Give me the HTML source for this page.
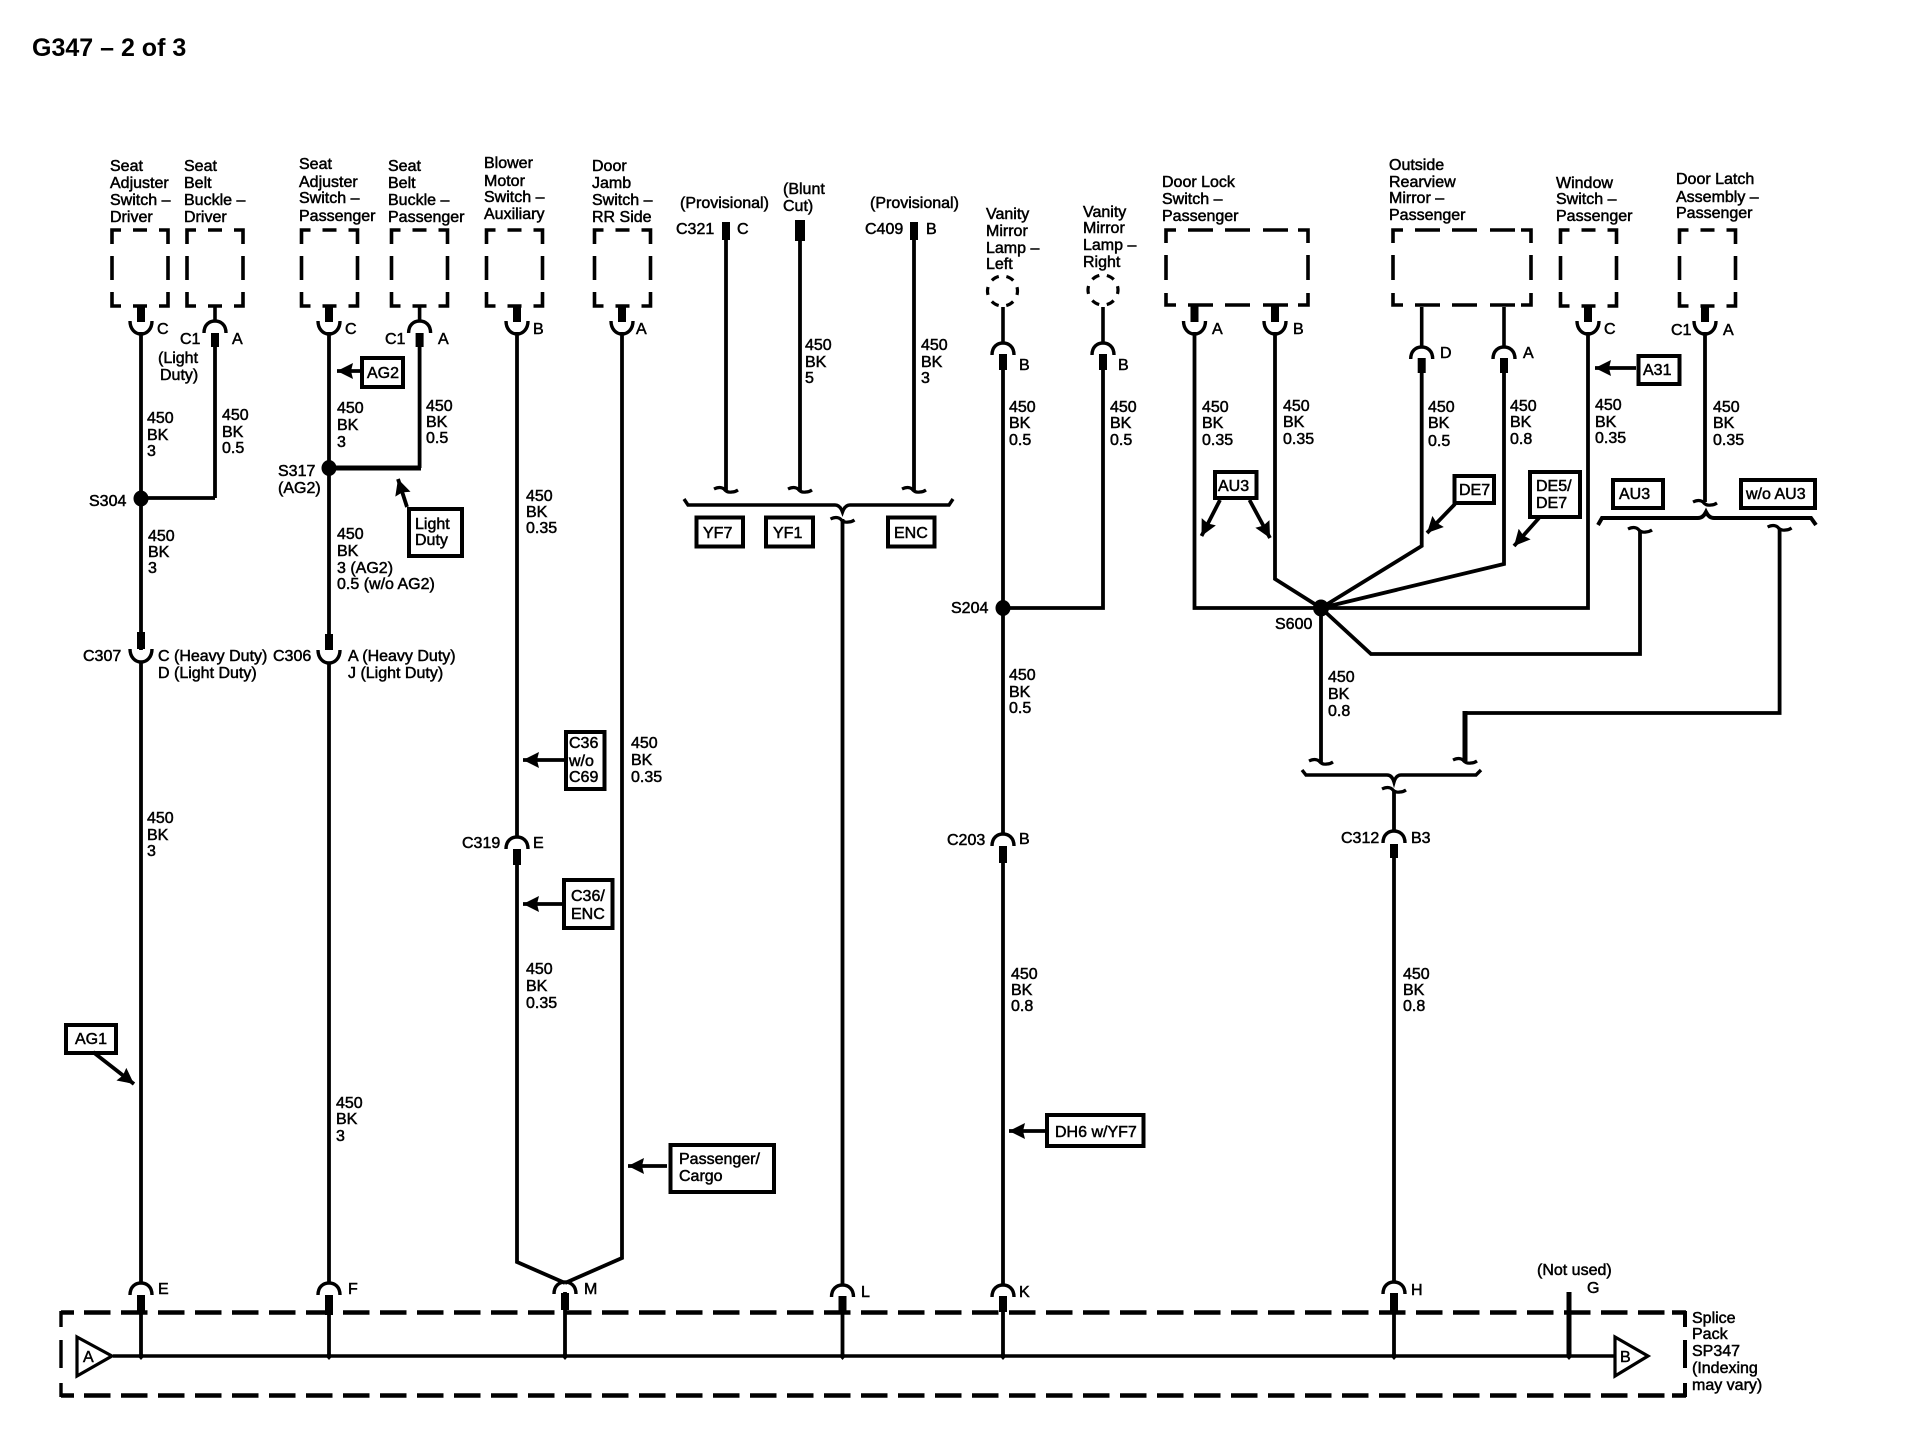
<!DOCTYPE html>
<html><head><meta charset="utf-8"><title>G347 - 2 of 3</title>
<style>html,body{margin:0;padding:0;background:#fff}svg{display:block}</style></head>
<body>
<svg xmlns="http://www.w3.org/2000/svg" width="1914" height="1456" viewBox="0 0 1914 1456">
<defs>
<path id="U" d="M-11 -1C-11 7 -6 12 0 12C6 12 11 7 11 -1" fill="none" stroke="#000" stroke-width="3.4"/>
<path id="Ar" d="M-11 12C-11 4 -6 0 0 0C6 0 11 4 11 12" fill="none" stroke="#000" stroke-width="3.4"/>
<path id="T" d="M-12 -1Q-6 -4 -2 -1Q1 3 6 2Q9 2 12 0" fill="none" stroke="#000" stroke-width="3.2"/>
<polygon id="N" points="-3.5,0 0,-4 3.5,0 0,4" fill="#000"/>
<g id="B" fill="none" stroke="#000" stroke-width="3.6">
<path d="M0 14V0H9M56 14V0H47M21 0H35M0 26V50M56 26V50M0 62V76H9M56 62V76H47M21 76H35"/>
</g>
<marker id="h" markerUnits="userSpaceOnUse" markerWidth="20" markerHeight="20" refX="16" refY="9" orient="auto">
<path d="M0 1L16 9L0 17L2 9Z" fill="#000"/>
</marker>
</defs>
<rect width="1914" height="1456" fill="#fff"/>

<!-- component boxes -->
<use href="#B" x="112" y="230"/><use href="#B" x="187" y="230"/>
<use href="#B" x="301.500" y="230"/><use href="#B" x="391.500" y="230"/>
<use href="#B" x="486.500" y="230"/><use href="#B" x="594.500" y="230"/>
<use href="#B" x="1560.500" y="230"/><use href="#B" x="1679.500" y="230"/>
<g fill="none" stroke="#000" stroke-width="3.6">
<path d="M1166 243V230H1176M1188 230H1213M1225 230H1250M1263 230H1288M1298 230H1308V243M1166 255V280M1308 255V280M1166 293V305H1176M1188 305H1213M1225 305H1250M1263 305H1288M1298 305H1308V293"/>
<path d="M1393 243V230H1403M1415 230H1440M1452 230H1477M1490 230H1515M1521 230H1531V243M1393 255V280M1531 255V280M1393 293V305H1403M1415 305H1440M1452 305H1477M1490 305H1515M1521 305H1531V293"/>
<circle cx="1002.500" cy="291" r="15" stroke-width="3.2" stroke-dasharray="8 7.700" stroke-dashoffset="4"/>
<circle cx="1103" cy="290" r="15" stroke-width="3.2" stroke-dasharray="8 7.700" stroke-dashoffset="4"/>
</g>

<!-- splice pack -->
<g fill="none" stroke="#000">
<path stroke-width="4.400" stroke-dasharray="26.500 10.500" d="M84 1312.500H1670M84 1395.500H1670"/>
<path stroke-width="4.400" d="M61 1312.500H74M61 1395.500H74M1672 1312.500H1686M1672 1395.500H1686"/>
<path stroke-width="3.400" d="M61 1311V1327M61 1340V1368M61 1383V1397"/>
<path stroke-width="4" d="M1685 1311V1327M1685 1340V1368M1685 1383V1397"/>
</g>

<!-- wires -->
<g fill="none" stroke="#000" stroke-width="3.800" stroke-linejoin="miter">
<path d="M141 332V650M141 661V1283M141 1295V1356M215 344V498M141 498H215"/>
<path d="M329 332V650M329 662V1283M329 1295V1356"/>
<path d="M419.600 344V468"/>
<path d="M517 332V837M517 849V1262L565 1283M622 332V1258L565 1283M565 1292V1356"/>
<path d="M842.500 519V1285M842.500 1296V1356"/>
<path d="M726 236V490M800 238V490M914 236V490"/>
<path d="M1003 365V834M1003 846V1285M1003 1296V1356M1103 365V608H1003"/>
<path d="M1194.500 332V608H1588V332M1275 332V579L1321 608M1421.700 370V546L1321 608M1504 370V564L1321 608"/>
<path d="M1705 332V502"/>
<path d="M1640 530V654H1371L1321 608M1321 608V762"/>
<path d="M1779.600 528V713H1465"/>
<path stroke-width="5" d="M1465 711V761"/>
<path d="M1394 790V831M1394 844V1282M1394 1293V1356"/>
<path stroke-width="3.400" d="M113 1356H1614"/>
<path stroke-width="5" d="M329 468H421M1569 1292V1356"/>
</g>

<!-- thick stubs -->
<g fill="none" stroke="#000" stroke-width="8">
<path d="M141 306V322M329 306V322M517 306V322M622 306V322M1194.500 306V322M1275 306V322M1588 306V322M1705 306V322"/>
<path d="M215 333V347M419.600 333V347"/>
<path d="M141 632V649M329 634V650"/>
<path d="M517 849V865M1003 846V863M1394 844V858"/>
<path d="M1103 354V370M1003 354V370"/>
<path d="M1421.700 358V373M1504 358V373"/>
<path d="M141 1295V1313M329 1295V1315M565 1293V1310M842.500 1296V1312M1003 1296V1312M1394 1293V1312"/>
<path d="M726 222V240M914 222V240"/>
<path stroke-width="10" d="M800 220V241"/>
</g>
<path d="M215 307V320M419.600 307V320M1103 307V343M1003 307V343M1421.700 307V347M1504 307V347" fill="none" stroke="#000" stroke-width="3.600"/>

<!-- connector cups and arches -->
<use href="#U" x="141" y="322"/><use href="#U" x="329" y="322"/><use href="#U" x="517" y="322"/><use href="#U" x="622" y="322"/>
<use href="#U" x="1194.500" y="322"/><use href="#U" x="1275" y="322"/><use href="#U" x="1588" y="322"/><use href="#U" x="1705" y="322"/>
<use href="#U" x="141" y="650"/><use href="#U" x="329" y="651"/>
<use href="#Ar" x="215" y="321"/><use href="#Ar" x="419.600" y="321"/>
<use href="#Ar" x="1003" y="343"/><use href="#Ar" x="1103" y="343"/>
<use href="#Ar" x="1421.700" y="347"/><use href="#Ar" x="1504" y="347"/>
<use href="#Ar" x="517" y="837"/><use href="#Ar" x="1003" y="834"/><use href="#Ar" x="1394" y="831"/>
<use href="#Ar" x="141" y="1283"/><use href="#Ar" x="329" y="1283"/><use href="#Ar" x="565" y="1282"/><use href="#Ar" x="842.500" y="1285"/><use href="#Ar" x="1003" y="1285"/><use href="#Ar" x="1394" y="1282"/>

<!-- tildes and braces -->
<use href="#T" x="726" y="490"/><use href="#T" x="800" y="490"/><use href="#T" x="914" y="490"/><use href="#T" x="842.500" y="520"/>
<use href="#T" x="1705" y="503"/><use href="#T" x="1640" y="530"/><use href="#T" x="1779.600" y="528"/>
<use href="#T" x="1321" y="762"/><use href="#T" x="1465" y="761"/><use href="#T" x="1394" y="790"/>
<g fill="none" stroke="#000" stroke-width="3.400">
<path d="M684 499L688 505H835Q840 505 842.500 512Q845 505 850 505H949L953 499"/>
<path stroke-width="4" d="M1598 525L1602 518H1698Q1703 518 1706 512Q1709 518 1714 518H1811L1816 525"/>
<path d="M1302 770L1306 775H1387Q1392 775 1394 782Q1396 775 1401 775H1476L1481 770"/>
</g>

<!-- splices -->
<g fill="#000">
<ellipse cx="141" cy="498.500" rx="7.500" ry="8"/><ellipse cx="329" cy="468" rx="7.500" ry="8"/>
<ellipse cx="1003" cy="608" rx="7.500" ry="8"/><ellipse cx="1321" cy="608" rx="8" ry="8.500"/>
</g>
<use href="#N" x="141" y="1356"/><use href="#N" x="329" y="1356"/><use href="#N" x="565" y="1356"/><use href="#N" x="842.500" y="1356"/><use href="#N" x="1003" y="1356"/><use href="#N" x="1394" y="1356"/><use href="#N" x="1569" y="1356"/>
<polygon points="77,1337 112,1356 77,1376" fill="#fff" stroke="#000" stroke-width="3.200"/>
<polygon points="1615,1337 1648,1356 1615,1376" fill="#fff" stroke="#000" stroke-width="3.200"/>

<!-- option flags -->
<g fill="#fff" stroke="#000" stroke-width="4">
<rect x="362" y="358" width="41" height="29"/>
<rect x="409" y="509" width="53" height="47"/>
<rect x="566" y="732" width="38.500" height="57"/>
<rect x="564" y="880" width="48.500" height="48"/>
<rect x="66" y="1025" width="50" height="28"/>
<rect x="1047" y="1115" width="96.500" height="31"/>
<rect x="670.500" y="1145" width="103.500" height="47"/>
<rect x="696.500" y="517.500" width="46.500" height="29"/>
<rect x="766" y="517.500" width="47" height="29"/>
<rect x="888" y="517.500" width="46.500" height="29"/>
<rect x="1215" y="472" width="41.500" height="26"/>
<rect x="1454.500" y="476" width="39.500" height="27"/>
<rect x="1530" y="472" width="50" height="45"/>
<rect x="1638.500" y="356" width="41" height="28"/>
<rect x="1613" y="480" width="50" height="28"/>
<rect x="1741" y="480" width="74" height="28"/>
</g>
<g fill="none" stroke="#000" stroke-width="3.800">
<path marker-end="url(#h)" d="M360 371H337"/>
<path marker-end="url(#h)" d="M407 507L398 479"/>
<path marker-end="url(#h)" d="M565 760H523"/>
<path marker-end="url(#h)" d="M562 904H523"/>
<path marker-end="url(#h)" d="M93 1052L134 1084"/>
<path marker-end="url(#h)" d="M1046 1131H1009"/>
<path marker-end="url(#h)" d="M667 1166H628"/>
<path marker-end="url(#h)" d="M1220 500L1201.500 536"/>
<path marker-end="url(#h)" d="M1249.500 500L1270 538"/>
<path marker-end="url(#h)" d="M1455 504L1427 533"/>
<path marker-end="url(#h)" d="M1539 518L1514 546"/>
<path marker-end="url(#h)" d="M1636 368H1595"/>
</g>

<!-- labels -->
<text x="32" y="56" font-family="'Liberation Sans',sans-serif" font-weight="700" font-size="25" fill="#000">G347 – 2 of 3</text>
<g font-family="'Liberation Sans',sans-serif" font-size="16" fill="#000" stroke="#000" stroke-width="0.500">
<text><tspan x="110" y="171">Seat</tspan><tspan x="110" y="188">Adjuster</tspan><tspan x="110" y="205">Switch –</tspan><tspan x="110" y="222">Driver</tspan></text>
<text><tspan x="184" y="171">Seat</tspan><tspan x="184" y="188">Belt</tspan><tspan x="184" y="205">Buckle –</tspan><tspan x="184" y="222">Driver</tspan></text>
<text><tspan x="299" y="169">Seat</tspan><tspan x="299" y="187">Adjuster</tspan><tspan x="299" y="203">Switch –</tspan><tspan x="299" y="221">Passenger</tspan></text>
<text><tspan x="388" y="171">Seat</tspan><tspan x="388" y="188">Belt</tspan><tspan x="388" y="205">Buckle –</tspan><tspan x="388" y="222">Passenger</tspan></text>
<text><tspan x="484" y="168">Blower</tspan><tspan x="484" y="186">Motor</tspan><tspan x="484" y="202">Switch –</tspan><tspan x="484" y="219">Auxiliary</tspan></text>
<text><tspan x="592" y="171">Door</tspan><tspan x="592" y="188">Jamb</tspan><tspan x="592" y="205">Switch –</tspan><tspan x="592" y="222">RR Side</tspan></text>
<text x="680" y="208">(Provisional)</text>
<text><tspan x="783" y="194">(Blunt</tspan><tspan x="783" y="211">Cut)</tspan></text>
<text x="870" y="208">(Provisional)</text>
<text x="676" y="234">C321</text><text x="737" y="234">C</text>
<text x="865" y="234">C409</text><text x="926" y="234">B</text>
<text><tspan x="986" y="219">Vanity</tspan><tspan x="986" y="236">Mirror</tspan><tspan x="986" y="253">Lamp –</tspan><tspan x="986" y="269">Left</tspan></text>
<text><tspan x="1083" y="217">Vanity</tspan><tspan x="1083" y="233">Mirror</tspan><tspan x="1083" y="250">Lamp –</tspan><tspan x="1083" y="267">Right</tspan></text>
<text><tspan x="1162" y="187">Door Lock</tspan><tspan x="1162" y="204">Switch –</tspan><tspan x="1162" y="221">Passenger</tspan></text>
<text><tspan x="1389" y="170">Outside</tspan><tspan x="1389" y="187">Rearview</tspan><tspan x="1389" y="203">Mirror –</tspan><tspan x="1389" y="220">Passenger</tspan></text>
<text><tspan x="1556" y="188">Window</tspan><tspan x="1556" y="204">Switch –</tspan><tspan x="1556" y="221">Passenger</tspan></text>
<text><tspan x="1676" y="184">Door Latch</tspan><tspan x="1676" y="202">Assembly –</tspan><tspan x="1676" y="218">Passenger</tspan></text>

<text x="157" y="334">C</text><text x="180" y="344">C1</text><text x="232" y="344">A</text>
<text><tspan x="158" y="363">(Light</tspan><tspan x="160" y="380">Duty)</tspan></text>
<text x="345" y="334">C</text><text x="385" y="344">C1</text><text x="438" y="344">A</text>
<text x="533" y="334">B</text><text x="636" y="334">A</text>
<text x="1019" y="370">B</text><text x="1118" y="370">B</text>
<text x="1212" y="334">A</text><text x="1293" y="334">B</text>
<text x="1440" y="358">D</text><text x="1523" y="358">A</text>
<text x="1604" y="334">C</text><text x="1671" y="335">C1</text><text x="1723" y="335">A</text>

<text><tspan x="147" y="423">450</tspan><tspan x="147" y="440">BK</tspan><tspan x="147" y="456">3</tspan></text>
<text><tspan x="222" y="420">450</tspan><tspan x="222" y="437">BK</tspan><tspan x="222" y="453">0.5</tspan></text>
<text><tspan x="337" y="413">450</tspan><tspan x="337" y="430">BK</tspan><tspan x="337" y="447">3</tspan></text>
<text><tspan x="426" y="411">450</tspan><tspan x="426" y="427">BK</tspan><tspan x="426" y="443">0.5</tspan></text>
<text><tspan x="148" y="541">450</tspan><tspan x="148" y="557">BK</tspan><tspan x="148" y="573">3</tspan></text>
<text><tspan x="337" y="539">450</tspan><tspan x="337" y="556">BK</tspan><tspan x="337" y="573">3 (AG2)</tspan><tspan x="337" y="589">0.5 (w/o AG2)</tspan></text>
<text><tspan x="526" y="501">450</tspan><tspan x="526" y="517">BK</tspan><tspan x="526" y="533">0.35</tspan></text>
<text><tspan x="631" y="748">450</tspan><tspan x="631" y="765">BK</tspan><tspan x="631" y="782">0.35</tspan></text>
<text><tspan x="147" y="823">450</tspan><tspan x="147" y="840">BK</tspan><tspan x="147" y="856">3</tspan></text>
<text><tspan x="526" y="974">450</tspan><tspan x="526" y="991">BK</tspan><tspan x="526" y="1008">0.35</tspan></text>
<text><tspan x="336" y="1108">450</tspan><tspan x="336" y="1124">BK</tspan><tspan x="336" y="1141">3</tspan></text>
<text><tspan x="805" y="350">450</tspan><tspan x="805" y="367">BK</tspan><tspan x="805" y="383">5</tspan></text>
<text><tspan x="921" y="350">450</tspan><tspan x="921" y="367">BK</tspan><tspan x="921" y="383">3</tspan></text>
<text><tspan x="1009" y="412">450</tspan><tspan x="1009" y="428">BK</tspan><tspan x="1009" y="445">0.5</tspan></text>
<text><tspan x="1110" y="412">450</tspan><tspan x="1110" y="428">BK</tspan><tspan x="1110" y="445">0.5</tspan></text>
<text><tspan x="1009" y="680">450</tspan><tspan x="1009" y="697">BK</tspan><tspan x="1009" y="713">0.5</tspan></text>
<text><tspan x="1011" y="979">450</tspan><tspan x="1011" y="995">BK</tspan><tspan x="1011" y="1011">0.8</tspan></text>
<text><tspan x="1202" y="412">450</tspan><tspan x="1202" y="428">BK</tspan><tspan x="1202" y="445">0.35</tspan></text>
<text><tspan x="1283" y="411">450</tspan><tspan x="1283" y="427">BK</tspan><tspan x="1283" y="444">0.35</tspan></text>
<text><tspan x="1428" y="412">450</tspan><tspan x="1428" y="428">BK</tspan><tspan x="1428" y="446">0.5</tspan></text>
<text><tspan x="1510" y="411">450</tspan><tspan x="1510" y="427">BK</tspan><tspan x="1510" y="444">0.8</tspan></text>
<text><tspan x="1595" y="410">450</tspan><tspan x="1595" y="427">BK</tspan><tspan x="1595" y="443">0.35</tspan></text>
<text><tspan x="1713" y="412">450</tspan><tspan x="1713" y="428">BK</tspan><tspan x="1713" y="445">0.35</tspan></text>
<text><tspan x="1328" y="682">450</tspan><tspan x="1328" y="699">BK</tspan><tspan x="1328" y="716">0.8</tspan></text>
<text><tspan x="1403" y="979">450</tspan><tspan x="1403" y="995">BK</tspan><tspan x="1403" y="1011">0.8</tspan></text>

<text x="89" y="506">S304</text>
<text><tspan x="278" y="476">S317</tspan><tspan x="278" y="493">(AG2)</tspan></text>
<text x="951" y="613">S204</text><text x="1275" y="629">S600</text>
<text x="83" y="661">C307</text>
<text><tspan x="158" y="661">C (Heavy Duty)</tspan><tspan x="158" y="678">D (Light Duty)</tspan></text>
<text x="273" y="661">C306</text>
<text><tspan x="348" y="661">A (Heavy Duty)</tspan><tspan x="348" y="678">J (Light Duty)</tspan></text>
<text x="462" y="848">C319</text><text x="533" y="848">E</text>
<text x="947" y="845">C203</text><text x="1019" y="844">B</text>
<text x="1341" y="843">C312</text><text x="1411" y="843">B3</text>

<text x="158" y="1294">E</text><text x="348" y="1294">F</text><text x="584" y="1294">M</text>
<text x="861" y="1297">L</text><text x="1019" y="1297">K</text><text x="1411" y="1295">H</text>
<text x="1537" y="1275">(Not used)</text><text x="1587" y="1293">G</text>
<text x="83" y="1362">A</text><text x="1620" y="1362">B</text>
<text><tspan x="1692" y="1323">Splice</tspan><tspan x="1692" y="1339">Pack</tspan><tspan x="1692" y="1356">SP347</tspan><tspan x="1692" y="1373">(Indexing</tspan><tspan x="1692" y="1390">may vary)</tspan></text>

<text x="367" y="378">AG2</text>
<text><tspan x="415" y="529">Light</tspan><tspan x="415" y="545">Duty</tspan></text>
<text><tspan x="569" y="748">C36</tspan><tspan x="569" y="766">w/o</tspan><tspan x="569" y="782">C69</tspan></text>
<text><tspan x="571" y="901">C36/</tspan><tspan x="571" y="919">ENC</tspan></text>
<text x="75" y="1044">AG1</text>
<text x="1055" y="1137">DH6 w/YF7</text>
<text><tspan x="679" y="1164">Passenger/</tspan><tspan x="679" y="1181">Cargo</tspan></text>
<text x="703" y="538">YF7</text><text x="773" y="538">YF1</text><text x="894" y="538">ENC</text>
<text x="1218" y="491">AU3</text><text x="1459" y="495">DE7</text>
<text><tspan x="1536" y="491">DE5/</tspan><tspan x="1536" y="508">DE7</tspan></text>
<text x="1643" y="375">A31</text>
<text x="1619" y="499">AU3</text><text x="1746" y="499">w/o AU3</text>
</g>
</svg>
</body></html>
